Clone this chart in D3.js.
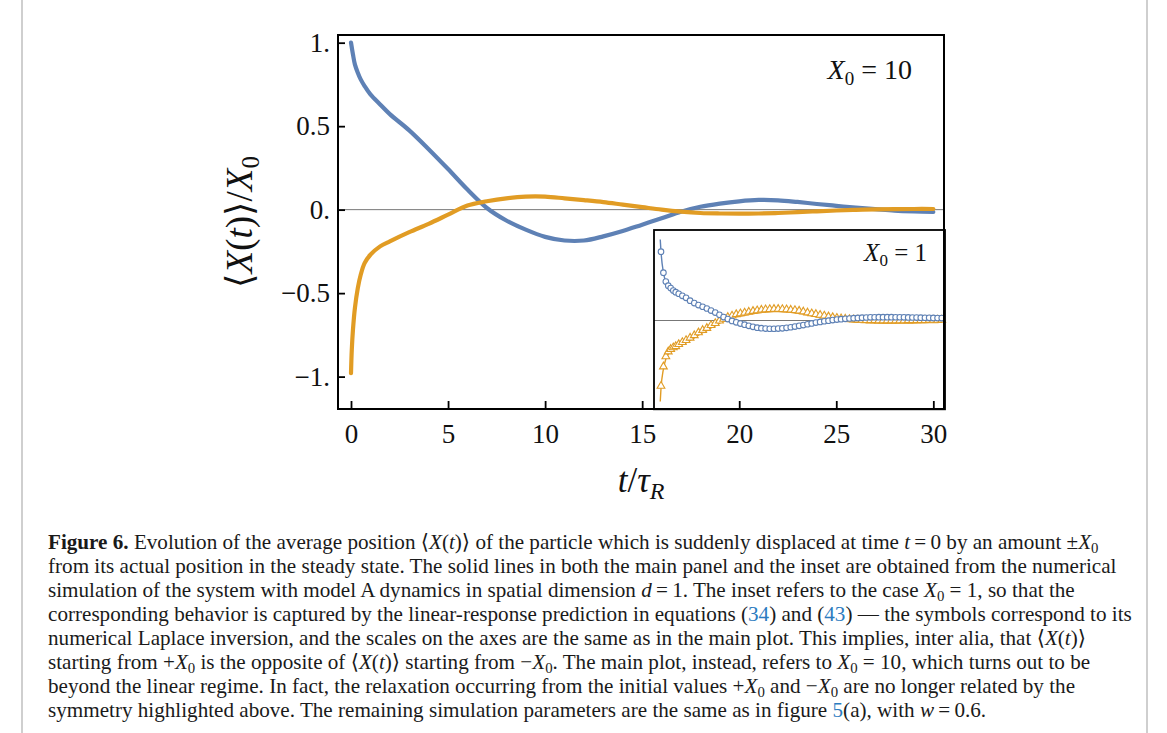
<!DOCTYPE html>
<html>
<head>
<meta charset="utf-8">
<script src="https://cdn.jsdelivr.net/npm/d3@7"></script>
<style>
  html, body { margin: 0; padding: 0; background: #fff; }
  svg { display: block; }
</style>
</head>
<body>
<svg id="chart" width="1167" height="733"></svg>
<script>
// ---------------- data ----------------
// main panel, X0 = 10 (simulation)
const mainBlueT = [0, 0.1, 0.2, 0.35, 0.5, 0.7, 1, 1.5, 2, 3, 4, 5, 6, 7, 8, 9, 10, 11, 12, 13, 14, 15, 16, 17, 18, 19, 20, 21, 22, 23, 24, 25, 26, 27, 28, 29, 30];
const mainBlueV = [1.0, 0.93, 0.87, 0.82, 0.78, 0.74, 0.69, 0.63, 0.572, 0.475, 0.362, 0.243, 0.12, 0.01, -0.065, -0.12, -0.163, -0.185, -0.185, -0.16, -0.128, -0.09, -0.052, -0.012, 0.017, 0.036, 0.05, 0.058, 0.056, 0.046, 0.034, 0.023, 0.012, 0.003, -0.006, -0.011, -0.014];
const mainOrangeT = [0, 0.04, 0.1, 0.2, 0.35, 0.5, 0.7, 1, 1.5, 2, 3, 4, 5, 6, 7, 8, 9, 10, 11, 12, 13, 14, 15, 16, 17, 18, 19, 20, 21, 22, 23, 24, 25, 26, 27, 28, 29, 30];
const mainOrangeV = [-0.98, -0.84, -0.72, -0.59, -0.47, -0.39, -0.32, -0.27, -0.22, -0.19, -0.135, -0.085, -0.03, 0.025, 0.05, 0.068, 0.078, 0.078, 0.068, 0.057, 0.045, 0.03, 0.015, 0.0, -0.012, -0.02, -0.023, -0.024, -0.023, -0.02, -0.015, -0.01, -0.005, -0.001, 0.002, 0.003, 0.004, 0.004];

// inset, X0 = 1 : start of simulation lines
const insetStartT = [0];
const insetBlueStart = [1.0];
const insetOrangeStart = [-1.0];
// inset symbols (numerical Laplace inversion) and lines
const insetT = [0.08, 0.34, 0.6, 0.86, 1.12, 1.4, 1.66, 1.98, 2.37, 2.77, 3.2, 3.65, 4.1, 4.55, 5.0, 5.45, 5.9, 6.35, 6.8, 7.25, 7.7, 8.15, 8.6, 9.05, 9.5, 9.95, 10.4, 10.85, 11.3, 11.75, 12.2, 12.65, 13.1, 13.55, 14.0, 14.45, 14.9, 15.35, 15.8, 16.25, 16.7, 17.15, 17.6, 18.05, 18.5, 18.95, 19.4, 19.85, 20.3, 20.75, 21.2, 21.65, 22.1, 22.55, 23.0, 23.45, 23.9, 24.35, 24.8, 25.25, 25.7, 26.15, 26.6, 27.05, 27.5, 27.95, 28.4, 28.85, 29.3, 29.75, 30.2];
const insetBlueV = [0.85, 0.59, 0.48, 0.43, 0.40, 0.37, 0.35, 0.33, 0.305, 0.28, 0.245, 0.215, 0.19, 0.17, 0.148, 0.122, 0.098, 0.07, 0.042, 0.018, -0.005, -0.022, -0.038, -0.052, -0.066, -0.078, -0.088, -0.095, -0.1, -0.102, -0.102, -0.1, -0.096, -0.09, -0.083, -0.075, -0.066, -0.056, -0.046, -0.036, -0.026, -0.017, -0.009, -0.002, 0.005, 0.011, 0.016, 0.021, 0.025, 0.029, 0.032, 0.035, 0.037, 0.039, 0.04, 0.041, 0.041, 0.041, 0.041, 0.04, 0.04, 0.039, 0.038, 0.037, 0.036, 0.035, 0.034, 0.033, 0.032, 0.031, 0.03];
const insetOrangeV = [-0.84, -0.6, -0.475, -0.415, -0.385, -0.365, -0.35, -0.325, -0.3, -0.275, -0.245, -0.215, -0.18, -0.15, -0.125, -0.09, -0.065, -0.035, -0.013, 0.01, 0.027, 0.045, 0.055, 0.065, 0.075, 0.085, 0.092, 0.1, 0.105, 0.108, 0.11, 0.11, 0.108, 0.105, 0.1, 0.095, 0.088, 0.078, 0.066, 0.056, 0.047, 0.037, 0.027, 0.017, 0.008, 0.0, -0.006, -0.011, -0.015, -0.019, -0.022, -0.025, -0.027, -0.029, -0.03, -0.031, -0.032, -0.032, -0.032, -0.032, -0.031, -0.031, -0.03, -0.03, -0.029, -0.028, -0.027, -0.026, -0.025, -0.024, -0.023];

// ticks
const xTicks = [0, 5, 10, 15, 20, 25, 30];
const xTickLabels = ["0", "5", "10", "15", "20", "25", "30"];
const yTicks = [-1, -0.5, 0, 0.5, 1];
const yTickLabels = ["\u22121.", "\u22120.5", "0.", "0.5", "1."];

// caption lines: [text, style]; styles: n normal, b bold, i italic, s subscript, l link
const captionLines = [
  [["Figure 6.", "b"], [" Evolution of the average position \u27E8", "n"], ["X", "i"], ["(", "n"], ["t", "i"], [")\u27E9 of the particle which is suddenly displaced at time ", "n"], ["t", "i"], ["\u2009=\u20090 by an amount \u00B1", "n"], ["X", "i"], ["0", "s"]],
  [["from its actual position in the steady state. The solid lines in both the main panel and the inset are obtained from the numerical", "n"]],
  [["simulation of the system with model A dynamics in spatial dimension ", "n"], ["d", "i"], ["\u2009=\u20091. The inset refers to the case ", "n"], ["X", "i"], ["0", "s"], [" = 1, so that the", "n"]],
  [["corresponding behavior is captured by the linear-response prediction in equations (", "n"], ["34", "l"], [") and (", "n"], ["43", "l"], [") \u2014 the symbols correspond to its", "n"]],
  [["numerical Laplace inversion, and the scales on the axes are the same as in the main plot. This implies, inter alia, that \u27E8", "n"], ["X", "i"], ["(", "n"], ["t", "i"], [")\u27E9", "n"]],
  [["starting from +", "n"], ["X", "i"], ["0", "s"], [" is the opposite of \u27E8", "n"], ["X", "i"], ["(", "n"], ["t", "i"], [")\u27E9 starting from \u2212", "n"], ["X", "i"], ["0", "s"], [". The main plot, instead, refers to ", "n"], ["X", "i"], ["0", "s"], [" = 10, which turns out to be", "n"]],
  [["beyond the linear regime. In fact, the relaxation occurring from the initial values +", "n"], ["X", "i"], ["0", "s"], [" and \u2212", "n"], ["X", "i"], ["0", "s"], [" are no longer related by the", "n"]],
  [["symmetry highlighted above. The remaining simulation parameters are the same as in figure ", "n"], ["5", "l"], ["(a), with ", "n"], ["w", "i"], ["\u2009=\u20090.6.", "n"]]
];

// ---------------- drawing ----------------
const BLUE = "#5e81b5", ORANGE = "#e19c24";
const MATH = "'Liberation Serif', 'DejaVu Serif', serif";
const svg = d3.select("#chart");

// page side rules
svg.append("line").attr("x1", 22).attr("x2", 22).attr("y1", 0).attr("y2", 733).attr("stroke", "#cfcfcf").attr("stroke-width", 2);
svg.append("line").attr("x1", 1147).attr("x2", 1147).attr("y1", 0).attr("y2", 733).attr("stroke", "#cfcfcf").attr("stroke-width", 2);

const L = 338, R = 944, T = 35, B = 409;
const x = d3.scaleLinear().domain([-0.67, 30.55]).range([L, R]);
const y = d3.scaleLinear().domain([-1.194, 1.046]).range([B, T]);

// zero line
svg.append("line").attr("x1", L).attr("x2", R).attr("y1", y(0)).attr("y2", y(0)).attr("stroke", "#777").attr("stroke-width", 1);

const mainLine = d3.line().x(d => x(d[0])).y(d => y(d[1])).curve(d3.curveCatmullRom.alpha(0.5));
svg.append("path").datum(d3.zip(mainBlueT, mainBlueV)).attr("d", mainLine)
  .attr("fill", "none").attr("stroke", BLUE).attr("stroke-width", 4.2).attr("stroke-linecap", "round");
svg.append("path").datum(d3.zip(mainOrangeT, mainOrangeV)).attr("d", mainLine)
  .attr("fill", "none").attr("stroke", ORANGE).attr("stroke-width", 4.2).attr("stroke-linecap", "round");

// ---- inset ----
const iL = 654, iR = 945, iT = 230, iB = 409.3;
const xi = d3.scaleLinear().domain([-0.67, 30.55]).range([iL, iR]);
const yi = d3.scaleLinear().domain([-1.096, 1.117]).range([iB, iT]);
svg.append("rect").attr("x", iL).attr("y", iT).attr("width", iR - iL).attr("height", iB - iT).attr("fill", "#fff");
svg.append("line").attr("x1", iL).attr("x2", iR).attr("y1", yi(0)).attr("y2", yi(0)).attr("stroke", "#777").attr("stroke-width", 1);

const insetLine = d3.line().x(d => xi(d[0])).y(d => yi(d[1])).curve(d3.curveMonotoneX);
const blueIn = d3.zip(insetStartT.concat(insetT), insetBlueStart.concat(insetBlueV));
const orangeIn = d3.zip(insetStartT.concat(insetT), insetOrangeStart.concat(insetOrangeV));
svg.append("path").datum(blueIn).attr("d", insetLine).attr("fill", "none").attr("stroke", BLUE).attr("stroke-width", 1.4);
svg.append("path").datum(orangeIn).attr("d", insetLine).attr("fill", "none").attr("stroke", ORANGE).attr("stroke-width", 1.4);

const tri = d3.symbol().type(d3.symbolTriangle).size(26);
svg.append("g").selectAll("path").data(d3.zip(insetT, insetOrangeV)).join("path")
  .attr("d", tri)
  .attr("transform", d => `translate(${xi(d[0])},${yi(d[1]) - 2.5})`)
  .attr("fill", "#fff").attr("stroke", ORANGE).attr("stroke-width", 1.1);
svg.append("g").selectAll("circle").data(d3.zip(insetT, insetBlueV)).join("circle")
  .attr("cx", d => xi(d[0])).attr("cy", d => yi(d[1])).attr("r", 2.8)
  .attr("fill", "#fff").attr("stroke", BLUE).attr("stroke-width", 1.1);

svg.append("rect").attr("x", iL).attr("y", iT).attr("width", iR - iL).attr("height", iB - iT)
  .attr("fill", "none").attr("stroke", "#000").attr("stroke-width", 1.8);

// inset label X0 = 1
const lab1 = svg.append("text").attr("x", 927).attr("y", 261).attr("text-anchor", "end")
  .attr("font-family", MATH).attr("font-size", 25).attr("fill", "#111");
lab1.append("tspan").attr("font-style", "italic").text("X");
lab1.append("tspan").attr("font-size", 17).attr("dy", 5).text("0");
lab1.append("tspan").attr("dy", -5).text(" = 1");

// ---- axes (ticks inward) ----
const xAxis = d3.axisBottom(x).tickValues(xTicks).tickFormat((d, i) => xTickLabels[i]).tickSize(-8).tickPadding(15);
const gx = svg.append("g").attr("transform", `translate(0,${B})`).call(xAxis);
const yAxis = d3.axisLeft(y).tickValues(yTicks).tickFormat((d, i) => yTickLabels[i]).tickSize(-7).tickPadding(8);
const gy = svg.append("g").attr("transform", `translate(${L},0)`).call(yAxis);
[gx, gy].forEach(g => {
  g.select(".domain").remove();
  g.selectAll(".tick line").attr("stroke", "#000").attr("stroke-width", 1.8);
  g.selectAll(".tick text").attr("font-family", MATH).attr("font-size", 27).attr("fill", "#111");
});

// main frame
svg.append("rect").attr("x", L).attr("y", T).attr("width", R - L).attr("height", B - T)
  .attr("fill", "none").attr("stroke", "#000").attr("stroke-width", 2);

// main label X0 = 10
const lab10 = svg.append("text").attr("x", 912).attr("y", 79).attr("text-anchor", "end")
  .attr("font-family", MATH).attr("font-size", 28).attr("fill", "#111");
lab10.append("tspan").attr("font-style", "italic").text("X");
lab10.append("tspan").attr("font-size", 19).attr("dy", 6).text("0");
lab10.append("tspan").attr("dy", -6).text(" = 10");

// axis titles
const xt = svg.append("text").attr("x", 641).attr("y", 492).attr("text-anchor", "middle")
  .attr("font-family", MATH).attr("font-size", 35).attr("fill", "#111");
xt.append("tspan").attr("font-style", "italic").text("t");
xt.append("tspan").text("/");
xt.append("tspan").attr("font-style", "italic").text("\u03C4");
xt.append("tspan").attr("font-style", "italic").attr("font-size", 24).attr("dy", 7).text("R");

const yt = svg.append("text").attr("transform", "translate(252,222) rotate(-90)").attr("text-anchor", "middle")
  .attr("font-family", MATH).attr("font-size", 37).attr("fill", "#111");
yt.append("tspan").text("\u27E8");
yt.append("tspan").attr("font-style", "italic").text("X");
yt.append("tspan").text("(");
yt.append("tspan").attr("font-style", "italic").text("t");
yt.append("tspan").text(")\u27E9/");
yt.append("tspan").attr("font-style", "italic").text("X");
yt.append("tspan").attr("font-size", 25).attr("dy", 7).text("0");

// ---- caption ----
const CAP = "'Liberation Serif', 'DejaVu Serif', serif";
const capX = 48, capY0 = 549, capDy = 24;
let fs = 19;
const capG = svg.append("g").attr("font-family", CAP).attr("fill", "#1a1a1a");
function drawCaption(size) {
  capG.selectAll("*").remove();
  captionLines.forEach((segs, li) => {
    const t = capG.append("text").attr("x", capX).attr("y", capY0 + li * capDy).attr("font-size", size);
    let shifted = false;
    segs.forEach(([txt, st]) => {
      const sp = t.append("tspan").text(txt);
      if (st === "b") sp.attr("font-weight", "bold");
      if (st === "i") sp.attr("font-style", "italic");
      if (st === "l") sp.attr("fill", "#2b7bbf");
      if (st === "s") { sp.attr("font-size", size * 0.7).attr("dy", size * 0.2); shifted = true; }
      else if (shifted) { sp.attr("dy", -size * 0.2); shifted = false; }
    });
  });
}
drawCaption(fs);
const w2 = capG.selectAll("text").nodes()[1].getComputedTextLength();
fs = fs * (1117 - capX) / w2;
drawCaption(fs);
</script>
</body>
</html>
